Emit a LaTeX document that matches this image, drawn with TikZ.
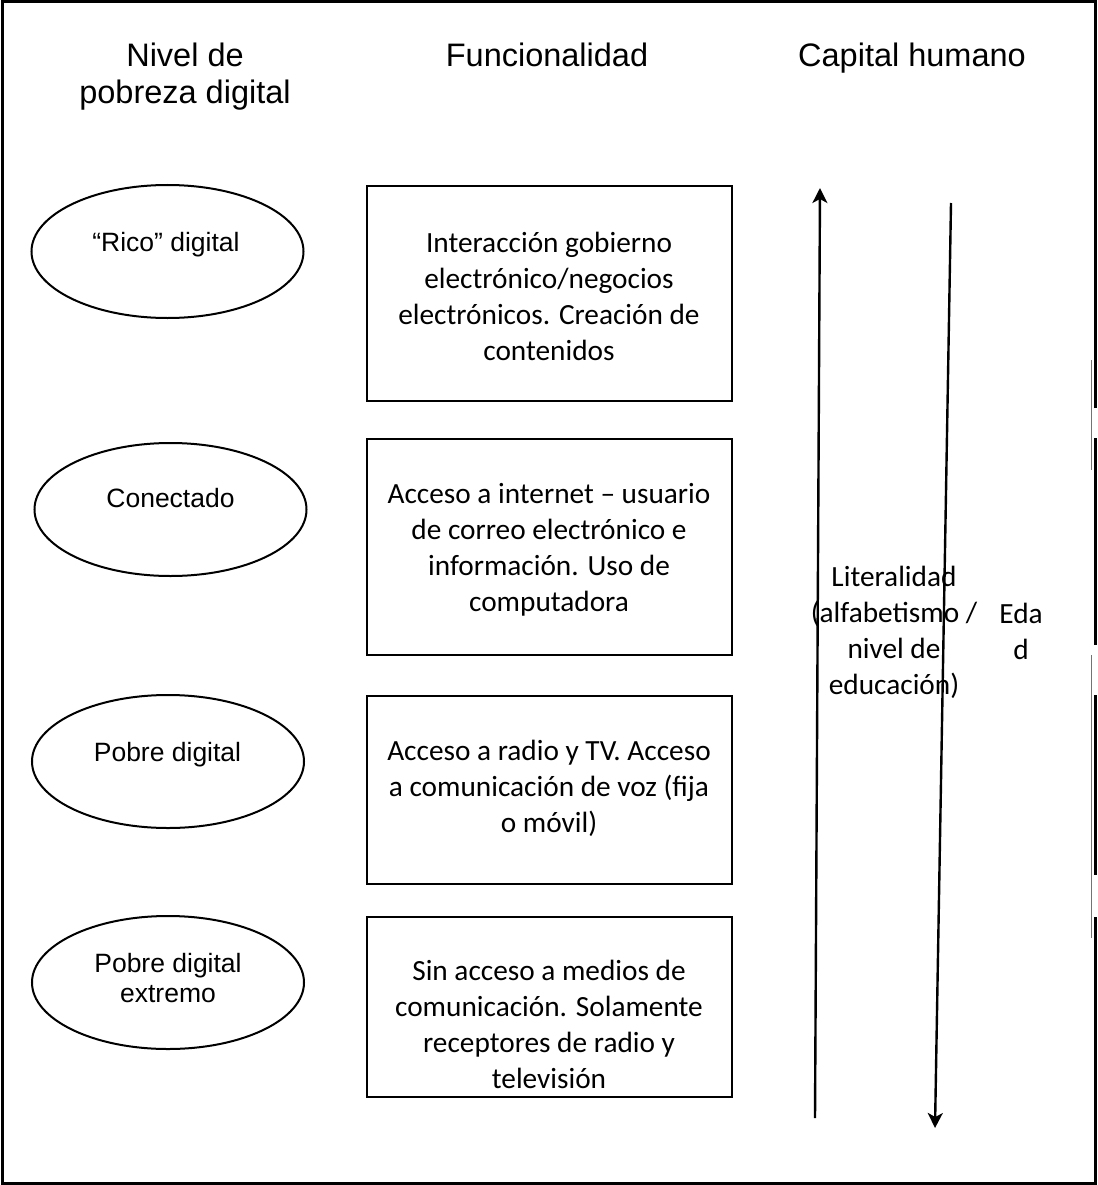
\documentclass[tikz,border=0pt]{standalone}
\usepackage{fontspec}
\setmainfont{Carlito}
\newfontfamily\arialf{Liberation Sans}
\usetikzlibrary{shapes.geometric,arrows.meta}
\begin{document}
\begin{tikzpicture}[x=1pt,y=-1pt,
  hdr/.style={font=\arialf\fontsize{32.5}{37}\selectfont, inner sep=0pt, align=center},
  ell/.style={ellipse, draw, line width=2pt, minimum width=272pt, minimum height=133pt, inner sep=0pt},
  etxt/.style={font=\arialf\fontsize{26.5}{30.5}\selectfont, inner sep=0pt, align=center},
  fbox/.style={draw, line width=2.5pt, rectangle, inner sep=0pt, minimum width=365pt},
  btxt/.style={font=\fontsize{29.3}{36}\selectfont, inner sep=0pt, align=center},
  arr/.style={line width=2.4pt, -{Stealth[length=15pt,width=15pt,inset=4pt]}},
  outerline/.style={line width=3pt},
  ghostline/.style={line width=1.3pt, black!55}
]
\useasboundingbox (0,0) rectangle (1097,1185);

% outer frame
\draw[outerline] (1095,408) -- (1095,2) -- (2.5,2) -- (2.5,1183) -- (1095,1183) -- (1095,917);
\draw[outerline] (1095,438) -- (1095,645);
\draw[outerline] (1095,695) -- (1095,875);
\draw[ghostline] (1091.5,360) -- (1091.5,470);
\draw[ghostline] (1091.5,655) -- (1091.5,938);

% headers
\node[hdr] (h1) at (185,78.1) {\strut Nivel de\\\strut pobreza digital};
\node[hdr, anchor=base] (h2) at (547,67) {Funcionalidad};
\node[hdr, anchor=base] (h3) at (912,67) {Capital humano};

% ellipses
\node[ell] (e1) at (167.5,251.5) {};
\node[etxt, anchor=base] (et1) at (166,251) {“Rico” digital};
\node[ell] (e2) at (170.5,509.5) {};
\node[etxt, anchor=base] (et2) at (170.5,507) {Conectado};
\node[ell] (e3) at (168,761.5) {};
\node[etxt, anchor=base] (et3) at (167.5,761) {Pobre digital};
\node[ell] (e4) at (168,982.5) {};
\node[etxt] (et4) at (168,981.2) {\strut Pobre digital\\\strut extremo};

% boxes
\node[fbox, minimum height=215pt] (b1) at (549.5,293.5) {};
\node[btxt] (bt1) at (549,298.8) {\strut Interacción gobierno\\\strut electrónico/negocios\\\strut electrónicos. Creación de\\\strut contenidos};
\node[fbox, minimum height=216pt] (b2) at (549.5,547) {};
\node[btxt] (bt2) at (549,549.8) {\strut Acceso a internet – usuario\\\strut de correo electrónico e\\\strut información. Uso de\\\strut computadora};
\node[fbox, minimum height=188pt] (b3) at (549.5,790) {};
\node[btxt] (bt3) at (549,788.8) {\strut Acceso a radio y TV. Acceso\\\strut a comunicación de voz (fija\\\strut o móvil)};
\node[fbox, minimum height=180pt] (b4) at (549.5,1007) {};
\node[btxt] (bt4) at (549,1026.8) {\strut Sin acceso a medios de\\\strut comunicación. Solamente\\\strut receptores de radio y\\\strut televisión};

% arrows
\coordinate (ua) at (815,1118);
\coordinate (ub) at (820,188);
\coordinate (da) at (951,203);
\coordinate (db) at (935,1128);
\draw[arr] (ua) -- (ub);
\draw[arr] (da) -- (db);

% capital humano labels
\node[btxt] (lit) at (894,632.8) {\strut Literalidad\\\strut (alfabetismo /\\\strut nivel de\\\strut educación)};
\node[btxt] (eda) at (1021,633.8) {\strut Eda\\\strut d};
\end{tikzpicture}
\end{document}
